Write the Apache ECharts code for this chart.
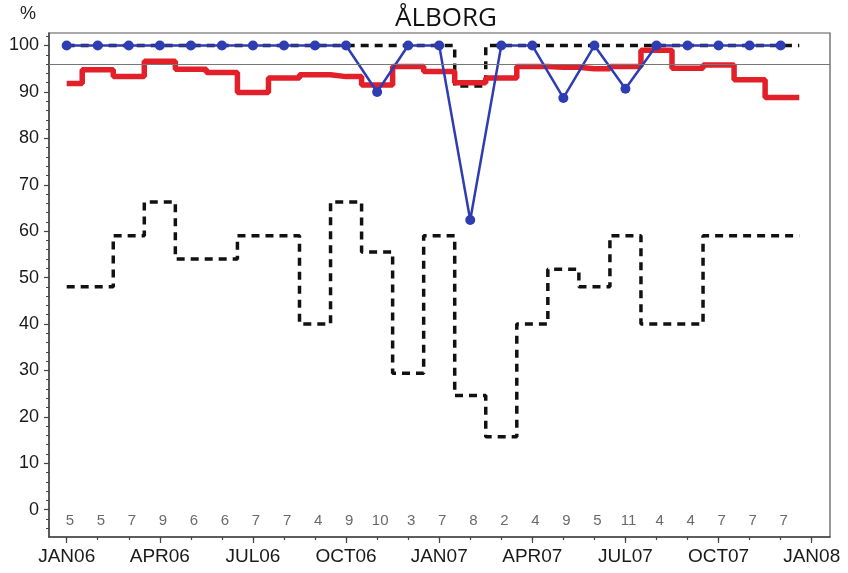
<!DOCTYPE html>
<html>
<head>
<meta charset="utf-8">
<script src="https://cdn.jsdelivr.net/npm/echarts@6/dist/echarts.min.js"></script>
<style>
  html, body { margin: 0; padding: 0; background: #fff; }
  #chart { width: 848px; height: 573px; }
</style>
</head>
<body>
<div id="chart"></div>
<script>
// ---- data ----
const title = 'ÅLBORG';
const unitLabel = '%';
const months = ['JAN06','FEB06','MAR06','APR06','MAY06','JUN06','JUL06','AUG06','SEP06','OCT06','NOV06','DEC06',
                'JAN07','FEB07','MAR07','APR07','MAY07','JUN07','JUL07','AUG07','SEP07','OCT07','NOV07','DEC07'];
const tickLabels = ['JAN06','APR06','JUL06','OCT06','JAN07','APR07','JUL07','OCT07','JAN08'];
const counts = [5,5,7,9,6,6,7,7,4,9,10,3,7,8,2,4,9,5,11,4,4,7,7,7];
const redValues = [91.8,94.8,93.3,96.6,94.9,94.2,89.9,93.0,93.7,93.3,91.5,95.5,94.4,92.0,93.0,95.5,95.3,95.0,95.5,99.0,95.1,95.8,92.6,88.8];
const blueValues = [100,100,100,100,100,100,100,100,100,100,90,100,100,62.4,100,100,88.7,100,90.7,100,100,100,100,100];
const blackTopValues = [100,100,100,100,100,100,100,100,100,100,100,100,100,91.3,100,100,100,100,100,100,100,100,100,100];
const blackLowValues = [48,48,59,66.3,54,54,59,59,40,66.3,55.5,29.4,59,24.6,15.7,40,51.8,48,59,40,40,59,59,59];
const referenceLevel = 96;
const yLabelValues = [0,10,20,30,40,50,60,70,80,90,100];

// ---- helpers to build series data ----
function pts(vals) { return vals.map((v, i) => [i, v]); }
// step data: the last monthly value holds a little over half a month past the last month
function stepPts(vals) {
  const d = pts(vals);
  d.push([vals.length - 0.4, vals[vals.length - 1]]);
  return d;
}
const quarterIdx = tickLabels.map((_, i) => i * 3);
const monthIdx = [];
for (let i = 0; i <= 24; i++) monthIdx.push(i);
const yMinorVals = [];
for (let v = -4; v <= 102; v += 2) if (v % 10 !== 0) yMinorVals.push(v);

const FONT = '"Liberation Sans", Arial, sans-serif';
const X_MIN = -0.57, X_MAX = 24.59, Y_MIN = -5.9, Y_MAX = 102.7;
const axisColor = '#444';

const chart = echarts.init(document.getElementById('chart'), null, { renderer: 'canvas' });
chart.setOption({
  animation: false,
  backgroundColor: '#fff',
  title: {
    text: title, left: 441, top: 1, textAlign: 'center',
    textStyle: { fontFamily: '"Open Sans", sans-serif', fontSize: 26, fontWeight: 'normal', color: '#111' }
  },
  graphic: [{
    type: 'text', left: 20, top: 5,
    style: { text: unitLabel, fontFamily: FONT, fontSize: 18, fill: '#222' }
  }],
  grid: { left: 49, right: 18, top: 33, bottom: 36, show: true, borderColor: '#555', borderWidth: 1.2, backgroundColor: 'transparent' },
  xAxis: [
    {
      type: 'value', min: X_MIN, max: X_MAX,
      axisLine: { show: true, onZero: false, lineStyle: { color: axisColor, width: 1.5 } },
      axisTick: { show: true, customValues: quarterIdx, length: 6, lineStyle: { color: axisColor, width: 1.2 } },
      axisLabel: {
        customValues: quarterIdx, margin: 10,
        formatter: v => tickLabels[Math.round(v / 3)],
        fontFamily: FONT, fontSize: 19, color: '#1a1a1a'
      },
      splitLine: { show: false }
    },
    {
      type: 'value', min: X_MIN, max: X_MAX, position: 'bottom',
      axisLine: { show: false, onZero: false },
      axisTick: { show: true, customValues: monthIdx, length: 3, lineStyle: { color: axisColor, width: 1.2 } },
      axisLabel: { show: false },
      splitLine: { show: false }
    }
  ],
  yAxis: [
    {
      type: 'value', min: Y_MIN, max: Y_MAX,
      axisLine: { show: true, onZero: false, lineStyle: { color: axisColor, width: 1.5 } },
      axisTick: { show: true, customValues: yLabelValues, length: 5, lineStyle: { color: axisColor, width: 1.2 } },
      axisLabel: { customValues: yLabelValues, margin: 10, fontFamily: FONT, fontSize: 18, color: '#1a1a1a' },
      splitLine: { show: false }
    },
    {
      type: 'value', min: Y_MIN, max: Y_MAX, position: 'left',
      axisLine: { show: false, onZero: false },
      axisTick: { show: true, customValues: yMinorVals, length: 3, lineStyle: { color: axisColor, width: 1 } },
      axisLabel: { show: false },
      splitLine: { show: false }
    }
  ],
  series: [
    {
      type: 'line', name: 'low', step: 'middle', data: stepPts(blackLowValues),
      symbol: 'none', lineStyle: { color: '#111', width: 3.5, type: [8, 6] }, z: 2,
      markLine: {
        silent: true, symbol: 'none', label: { show: false },
        lineStyle: { color: '#777', width: 1.2, type: 'solid' },
        data: [{ yAxis: referenceLevel }]
      }
    },
    {
      type: 'line', name: 'top', step: 'middle', data: stepPts(blackTopValues),
      symbol: 'none', lineStyle: { color: '#111', width: 3.5, type: [8, 6] }, z: 2
    },
    {
      type: 'line', name: 'red', step: 'middle', data: stepPts(redValues),
      symbol: 'none', lineStyle: { color: '#e3202a', width: 5.5 }, z: 3
    },
    {
      type: 'line', name: 'blue', data: pts(blueValues),
      symbol: 'circle', symbolSize: 10, showAllSymbol: true,
      itemStyle: { color: '#2f3db3' }, lineStyle: { color: '#2f3db3', width: 2.5 }, z: 4
    },
    {
      type: 'scatter', name: 'counts', data: counts.map((c, i) => [i + 0.1, -2.4]),
      symbolSize: 0, silent: true,
      label: {
        show: true, position: 'inside',
        formatter: p => String(counts[p.dataIndex]),
        fontFamily: FONT, fontSize: 15, color: '#444'
      }
    }
  ]
});
</script>
</body>
</html>
